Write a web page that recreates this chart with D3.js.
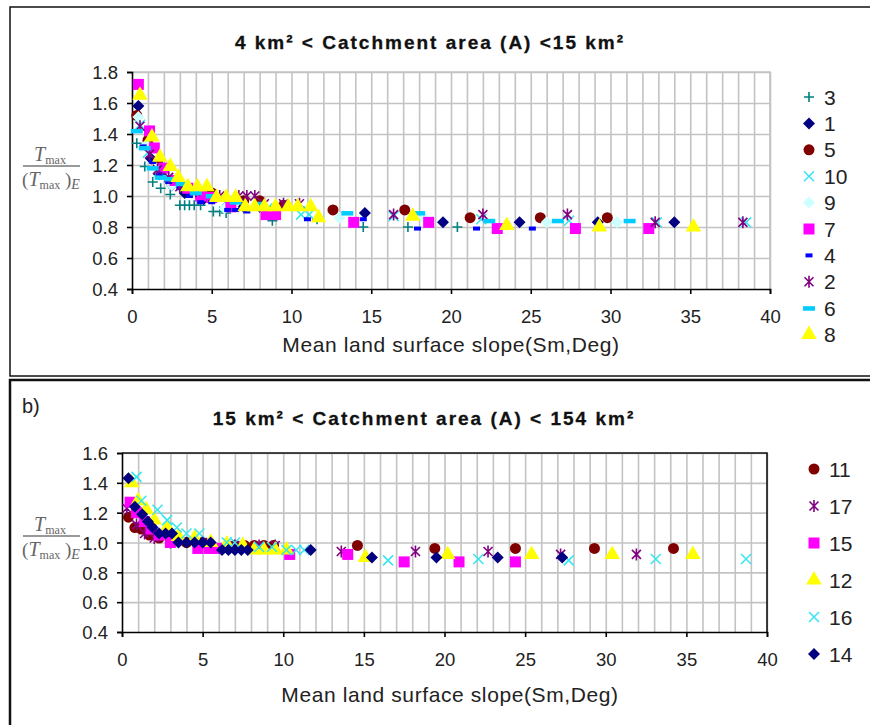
<!DOCTYPE html>
<html>
<head>
<meta charset="utf-8">
<script src="https://cdn.jsdelivr.net/npm/d3@7"></script>
<style>
  body { margin: 0; background: #fff; }
  svg { display: block; font-family: "Liberation Sans", Arial, sans-serif; }
</style>
</head>
<body>
<div id="chart"></div>
<script>
// ---- data: top panel (4 < A < 15 km2), [slope, Tmax/(Tmax)E] ----
const topNames = ["3", "1", "5", "10", "9", "7", "4", "2", "6", "8"];
const s3 = [[0.3,1.34],[0.8,1.19],[1.3,1.09],[1.8,1.05],[2.4,1.01],[3.0,0.94],[3.3,0.94],[3.6,0.94],[3.9,0.94],[4.3,0.94],[5.1,0.90],[5.5,0.90],[5.9,0.89],[8.8,0.84],[11.6,0.85],[14.5,0.80],[17.3,0.80],[20.4,0.80]];
const s1 = [[0.4,1.58],[1.2,1.24],[1.7,1.14],[2.5,1.07],[3.3,1.02],[4.5,0.98],[6.0,0.94],[7.0,0.93],[8.0,0.93],[9.0,0.93],[14.6,0.89],[19.5,0.83],[24.3,0.83],[29.2,0.83],[34.0,0.83]];
const s5 = [[0.3,1.52],[1.0,1.36],[1.6,1.22],[2.5,1.10],[3.5,1.05],[5.0,1.02],[7.0,0.97],[8.0,0.97],[9.5,0.94],[12.6,0.91],[17.1,0.91],[21.2,0.86],[25.6,0.86],[29.8,0.86]];
const s10 = [[0.5,1.46],[1.0,1.28],[1.7,1.16],[2.6,1.08],[4.0,1.02],[6.0,0.97],[8.5,0.92],[10.6,0.88],[11.1,0.88],[16.4,0.87],[21.9,0.85],[27.4,0.84],[32.9,0.83],[38.5,0.83]];
const s9 = [[0.4,1.51],[0.9,1.33],[1.5,1.18],[2.5,1.07],[4.0,1.02],[5.8,0.92],[9.0,0.90],[13.0,0.86],[18.3,0.86],[26.0,0.83],[30.4,0.83]];
const s7 = [[0.4,1.72],[1.1,1.42],[1.4,1.31],[2.0,1.18],[2.7,1.10],[3.5,1.05],[4.3,1.00],[5.0,0.99],[6.2,0.93],[8.4,0.88],[9.0,0.88],[13.9,0.83],[18.6,0.83],[22.9,0.79],[27.8,0.79],[32.4,0.79]];
const s4 = [[0.7,1.32],[1.3,1.22],[1.7,1.14],[2.3,1.09],[3.0,1.05],[3.6,1.00],[4.3,0.96],[5.0,0.96],[6.0,0.91],[6.5,0.91],[7.2,0.90],[11.0,0.85],[14.5,0.85],[17.9,0.79],[21.6,0.79],[25.1,0.79]];
const s2 = [[0.5,1.45],[1.1,1.27],[1.6,1.17],[2.3,1.12],[3.0,1.06],[4.0,1.03],[5.5,1.00],[6.7,1.00],[7.2,1.00],[7.7,1.00],[8.3,0.95],[9.5,0.95],[10.5,0.95],[16.4,0.88],[22.0,0.88],[27.3,0.88],[32.8,0.83],[38.3,0.83]];
const s6 = [[0.3,1.42],[0.8,1.31],[1.3,1.18],[1.8,1.12],[2.4,1.11],[3.1,1.08],[4.0,1.02],[5.0,1.00],[6.5,0.96],[8.0,0.95],[10.5,0.92],[13.5,0.89],[18.0,0.89],[22.4,0.84],[26.7,0.84],[31.2,0.84]];
const s8 = [[0.5,1.65],[1.25,1.38],[1.75,1.25],[2.4,1.19],[2.9,1.12],[3.5,1.06],[4.1,1.06],[4.7,1.06],[5.3,0.99],[5.9,0.99],[6.5,0.99],[7.1,0.93],[7.7,0.93],[8.3,0.93],[9.0,0.93],[9.8,0.93],[10.4,0.93],[11.2,0.93],[11.7,0.86],[17.6,0.87],[23.5,0.81],[29.3,0.80],[35.2,0.80]];

// ---- data: bottom panel (15 < A < 154 km2) ----
const botNames = ["11", "17", "15", "12", "16", "14"];
const s11 = [[0.4,1.17],[0.8,1.10],[1.2,1.09],[1.7,1.05],[2.3,1.03],[3.0,1.01],[4.0,1.00],[5.0,1.00],[7.0,0.98],[7.6,0.98],[8.2,0.98],[8.8,0.98],[9.4,0.98],[14.6,0.98],[19.4,0.96],[24.4,0.96],[29.3,0.96],[34.2,0.96]];
const s17 = [[0.3,1.23],[0.9,1.12],[1.4,1.06],[2.0,1.03],[3.0,1.00],[5.0,1.00],[7.0,0.98],[8.5,0.98],[9.5,0.98],[13.6,0.94],[18.2,0.94],[22.7,0.94],[27.2,0.92],[31.9,0.92]];
const s15 = [[0.5,1.27],[0.9,1.20],[1.4,1.14],[1.8,1.09],[2.3,1.05],[3.0,1.00],[4.7,0.96],[5.4,0.96],[6.0,0.96],[10.4,0.92],[14.0,0.92],[17.5,0.87],[20.9,0.87],[24.4,0.87]];
const s12 = [[0.6,1.40],[1.0,1.28],[1.5,1.22],[2.0,1.15],[2.8,1.10],[3.5,1.04],[4.5,1.03],[5.5,1.00],[6.5,0.99],[7.5,0.98],[8.2,0.95],[8.8,0.95],[9.5,0.95],[10.2,0.95],[15.1,0.90],[20.2,0.92],[25.4,0.92],[30.4,0.92],[35.4,0.92]];
const s16 = [[0.9,1.44],[1.2,1.28],[2.2,1.22],[2.8,1.15],[3.4,1.10],[4.0,1.06],[4.8,1.06],[6.5,1.00],[7.0,1.00],[8.5,0.97],[9.3,0.97],[10.2,0.95],[10.8,0.95],[11.3,0.95],[16.5,0.88],[22.1,0.89],[27.7,0.88],[33.1,0.89],[38.7,0.89]];
const s14 = [[0.4,1.43],[0.8,1.24],[1.25,1.19],[1.6,1.14],[1.9,1.10],[2.3,1.06],[2.7,1.06],[3.1,1.06],[3.5,1.00],[4.0,1.00],[4.5,1.00],[5.0,1.00],[5.5,1.00],[6.2,0.95],[6.6,0.95],[7.0,0.95],[7.4,0.95],[7.8,0.95],[11.7,0.95],[15.5,0.90],[19.5,0.90],[23.3,0.90],[27.3,0.90]];

const xTicks = [0, 5, 10, 15, 20, 25, 30, 35, 40];
const yTicksTop = [0.4, 0.6, 0.8, 1.0, 1.2, 1.4, 1.6, 1.8];
const yTicksBot = [0.4, 0.6, 0.8, 1.0, 1.2, 1.4, 1.6];

// marker look per series label
const markerStyle = {
  "3":  { shape: "plus",     color: "#008080" },
  "1":  { shape: "diamond",  color: "#000080" },
  "5":  { shape: "circle",   color: "#800000" },
  "10": { shape: "x",        color: "#33e6f0" },
  "9":  { shape: "diamond",  color: "#ccffff" },
  "7":  { shape: "square",   color: "#ff00ff" },
  "4":  { shape: "dash",     color: "#0000ff" },
  "2":  { shape: "star",     color: "#800080" },
  "6":  { shape: "longdash", color: "#00ccff" },
  "8":  { shape: "triangle", color: "#ffff00" },
  "11": { shape: "circle",   color: "#800000" },
  "17": { shape: "star",     color: "#800080" },
  "15": { shape: "square",   color: "#ff00ff" },
  "12": { shape: "triangle", color: "#ffff00" },
  "16": { shape: "x",        color: "#33e6f0" },
  "14": { shape: "diamond",  color: "#000080" }
};

const W = 870, H = 725;
const svg = d3.select("#chart").append("svg")
  .attr("width", W)
  .attr("height", H);

function drawMarker(sel, name) {
  const st = markerStyle[name];
  const c = st.color;
  if (st.shape == "plus") {
    sel.append("path").attr("d", "M-5,0H5M0,-5V5").attr("stroke", c).attr("stroke-width", 1.6).attr("fill", "none");
  } else if (st.shape == "x") {
    sel.append("path").attr("d", "M-5,-5L5,5M-5,5L5,-5").attr("stroke", c).attr("stroke-width", 1.5).attr("fill", "none");
  } else if (st.shape == "star") {
    sel.append("path").attr("d", "M-4.5,-4.5L4.5,4.5M-4.5,4.5L4.5,-4.5M0,-6V6").attr("stroke", c).attr("stroke-width", 1.6).attr("fill", "none");
  } else if (st.shape == "dash") {
    sel.append("rect").attr("x", -3.5).attr("y", -2).attr("width", 7).attr("height", 4).attr("fill", c);
  } else if (st.shape == "longdash") {
    sel.append("rect").attr("x", -6).attr("y", -2).attr("width", 12).attr("height", 4.5).attr("fill", c);
  } else if (st.shape == "diamond") {
    sel.append("path").attr("d", "M0,-6L6,0L0,6L-6,0Z").attr("fill", c);
  } else {
    const types = { square: d3.symbolSquare, triangle: d3.symbolTriangle, circle: d3.symbolCircle };
    const sizes = { square: 121, triangle: 105, circle: 95 };
    sel.append("path").attr("d", d3.symbol().type(types[st.shape]).size(sizes[st.shape])()).attr("fill", c);
  }
}

function drawPanel(p) {
  const g = svg.append("g");

  // panel frame
  g.append("rect")
    .attr("x", p.box[0]).attr("y", p.box[1])
    .attr("width", p.box[2]).attr("height", p.box[3])
    .attr("fill", "none").attr("stroke", "#111").attr("stroke-width", p.boxStroke);

  const x = d3.scaleLinear().domain([0, 40]).range([p.left, p.right]);
  const y = d3.scaleLinear().domain([0.4, p.yMax]).range([p.bottom, p.top]);

  // grid
  g.append("g")
    .attr("transform", "translate(0," + p.bottom + ")")
    .call(d3.axisBottom(x).tickValues(d3.range(1, 41)).tickSize(-(p.bottom - p.top)).tickFormat(""))
    .call(a => a.select(".domain").remove())
    .selectAll("line").attr("stroke", "#c3c3c3").attr("stroke-width", 1.6);
  g.append("g")
    .attr("transform", "translate(" + p.left + ",0)")
    .call(d3.axisLeft(y).tickValues(p.yTicks.slice(1)).tickSize(-(p.right - p.left)).tickFormat(""))
    .call(a => a.select(".domain").remove())
    .selectAll("line").attr("stroke", "#c3c3c3").attr("stroke-width", 1.6);

  // plot-area top/right edges
  g.append("path")
    .attr("d", "M" + p.left + "," + p.top + "H" + p.right + "V" + p.bottom)
    .attr("fill", "none").attr("stroke", p.edgeColor).attr("stroke-width", 1.6);

  // axes
  const xAxis = g.append("g")
    .attr("transform", "translate(0," + p.bottom + ")")
    .call(d3.axisBottom(x).tickValues(xTicks).tickSize(5).tickPadding(16).tickFormat(d3.format("d")));
  const yAxis = g.append("g")
    .attr("transform", "translate(" + p.left + ",0)")
    .call(d3.axisLeft(y).tickValues(p.yTicks).tickSize(5).tickPadding(9).tickFormat(d3.format(".1f")));
  [xAxis, yAxis].forEach(a => {
    a.select(".domain").attr("stroke", "#000").attr("stroke-width", 1.6);
    a.selectAll(".tick line").attr("stroke", "#000").attr("stroke-width", 1.6);
    a.selectAll("text").attr("font-size", 18.5).attr("fill", "#222").attr("font-family", "Liberation Sans, Arial");
  });
  yAxis.selectAll("text").attr("dy", "0.36em");

  // title
  g.append("text")
    .attr("x", p.titleX).attr("y", p.titleY)
    .attr("text-anchor", "middle")
    .attr("font-weight", "bold").attr("font-size", 19)
    .attr("letter-spacing", 2)
    .attr("fill", "#111")
    .attr("stroke", "#111").attr("stroke-width", 0.3)
    .text(p.title);

  if (p.tag) {
    g.append("text").attr("x", 22).attr("y", p.tagY)
      .attr("font-size", 20).attr("fill", "#222").text(p.tag);
  }

  // x title
  g.append("text")
    .attr("x", p.xTitleX).attr("y", p.xTitleY)
    .attr("text-anchor", "middle")
    .attr("font-size", 21).attr("letter-spacing", 0.6)
    .attr("fill", "#222")
    .text("Mean land surface slope(Sm,Deg)");

  // y title as a fraction
  const yt = g.append("g").attr("fill", "#666").attr("font-family", "Liberation Serif, DejaVu Serif, serif");
  const num = yt.append("text").attr("x", 50).attr("y", p.fracY - 5).attr("text-anchor", "middle");
  num.append("tspan").attr("font-style", "italic").attr("font-size", 20).text("T");
  num.append("tspan").attr("font-size", 12).attr("dy", 3).text("max");
  yt.append("line")
    .attr("x1", 23).attr("x2", 80).attr("y1", p.fracY).attr("y2", p.fracY)
    .attr("stroke", "#777").attr("stroke-width", 1.5);
  const den = yt.append("text").attr("x", 51).attr("y", p.fracY + 20).attr("text-anchor", "middle");
  den.append("tspan").attr("font-size", 19).text("(");
  den.append("tspan").attr("font-style", "italic").attr("font-size", 20).text("T");
  den.append("tspan").attr("font-size", 12).attr("dy", 3).text("max");
  den.append("tspan").attr("font-size", 19).attr("dy", -3).text(" )");
  den.append("tspan").attr("font-style", "italic").attr("font-size", 14).attr("dy", 3).text("E");

  // points
  p.series.forEach((s, i) => {
    const name = p.names[i];
    g.append("g").selectAll("g")
      .data(s)
      .enter()
        .append("g")
        .attr("transform", d => "translate(" + x(d[0]) + "," + y(d[1]) + ")")
        .each(function() { drawMarker(d3.select(this), name); });
  });

  // legend
  p.names.forEach((name, i) => {
    const ly = p.legendY + i * p.legendStep;
    const m = g.append("g").attr("transform", "translate(" + p.legendX + "," + ly + ")");
    drawMarker(m, name);
    g.append("text")
      .attr("x", p.legendX + 15).attr("y", ly + 7.5)
      .attr("font-size", 21).attr("fill", "#222")
      .text(name);
  });
}

drawPanel({
  box: [10, 7, 880, 369], boxStroke: 1.5,
  left: 132, right: 770, top: 72, bottom: 289, yMax: 1.8, yTicks: yTicksTop,
  edgeColor: "#c3c3c3",
  title: "4 km² < Catchment area (A) <15 km²", titleX: 430, titleY: 49,
  xTitleX: 451, xTitleY: 352, fracY: 166,
  series: [s3, s1, s5, s10, s9, s7, s4, s2, s6, s8], names: topNames,
  legendX: 809, legendY: 97, legendStep: 26.4
});

drawPanel({
  box: [10, 380, 880, 360], boxStroke: 2.5,
  left: 122, right: 767, top: 453, bottom: 632, yMax: 1.6, yTicks: yTicksBot,
  edgeColor: "#111",
  title: "15 km² < Catchment area (A) < 154 km²", titleX: 424, titleY: 425,
  tag: "b)", tagY: 413,
  xTitleX: 450, xTitleY: 702, fracY: 536,
  series: [s11, s17, s15, s12, s16, s14], names: botNames,
  legendX: 814, legendY: 469, legendStep: 37
});
</script>
</body>
</html>
